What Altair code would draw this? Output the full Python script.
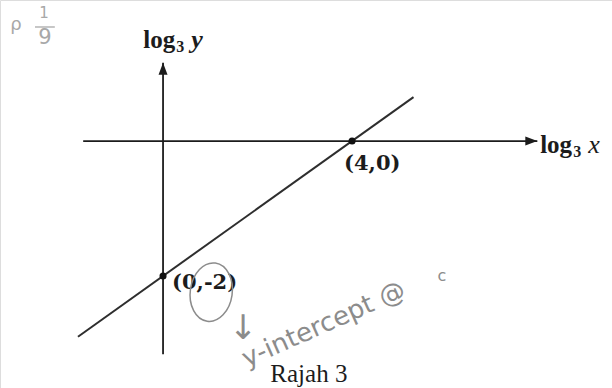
import altair as alt
import pandas as pd

# Diagram units: x is log3 x, y is log3 y
X_DOMAIN = [-3.45, 9.50]
Y_DOMAIN = [-3.66, 2.09]

# Axes extents
axis_h_x = [-1.69, 7.92]
axis_v_y = [-3.16, 1.16]

# Straight line through (0,-2) and (4,0), drawn past both points
line_x = [-1.8, 5.3]
line_y = [-2.9, 0.65]

# Marked points and their labels
pts_x = [4, 0]
pts_y = [0, -2]
pts_label = ["(4,0)", "(0,-2)"]
pts_label_x = [3.83, 0.19]
pts_label_y = [-0.34, -2.11]

caption = "Rajah 3"

xs = alt.Scale(domain=X_DOMAIN, nice=False, zero=False)
ys = alt.Scale(domain=Y_DOMAIN, nice=False, zero=False)
X = lambda f: alt.X(f, type="quantitative", scale=xs, axis=None)
Y = lambda f: alt.Y(f, type="quantitative", scale=ys, axis=None)

INK = "#1c1c1c"
PENCIL = "#8c8c8c"
SERIF = "Liberation Serif"
HAND = "DejaVu Sans"

axes_df = pd.DataFrame({
    "x": [axis_h_x[0], 0], "x2": [axis_h_x[1], 0],
    "y": [0, axis_v_y[0]], "y2": [0, axis_v_y[1]],
})
axes = alt.Chart(axes_df).mark_rule(color=INK, strokeWidth=1.8).encode(
    x=X("x"), x2="x2", y=Y("y"), y2="y2")

line = alt.Chart(pd.DataFrame({"x": line_x, "y": line_y})).mark_line(
    color="#2e2e2e", strokeWidth=2).encode(x=X("x"), y=Y("y"))

heads_df = pd.DataFrame({"x": [axis_h_x[1], 0], "y": [0, axis_v_y[1]],
                         "dir": ["right", "up"]})
head_r = alt.Chart(heads_df[heads_df.dir == "right"]).mark_point(
    shape="M-2,-0.75L0,0L-2,0.75Z", size=144, filled=True, opacity=1,
    color=INK).encode(x=X("x"), y=Y("y"))
head_u = alt.Chart(heads_df[heads_df.dir == "up"]).mark_point(
    shape="M-0.75,2L0,0L0.75,2Z", size=144, filled=True, opacity=1,
    color=INK).encode(x=X("x"), y=Y("y"))

dots = alt.Chart(pd.DataFrame({"x": pts_x, "y": pts_y})).mark_circle(
    size=50, color="#111111", opacity=1).encode(x=X("x"), y=Y("y"))

pt_labels = alt.Chart(pd.DataFrame({
    "x": pts_label_x, "y": pts_label_y, "t": pts_label})).mark_text(
    font="DejaVu Serif", fontSize=21, fontWeight="bold", color=INK, align="left",
    baseline="middle").encode(x=X("x"), y=Y("y"), text="t:N")


def axis_title(x0, y0, var, var_bold):
    pos = pd.DataFrame({"x": [x0], "y": [y0]})
    base = alt.Chart(pos).encode(x=X("x"), y=Y("y"))
    log = base.mark_text(text="log", font=SERIF, fontSize=25, fontWeight="bold",
                         color=INK, align="left", baseline="alphabetic")
    sub = base.mark_text(text="3", font=SERIF, fontSize=16, fontWeight="bold",
                         color=INK, align="left", baseline="alphabetic", dx=33, dy=4)
    v = base.mark_text(text=var, font=SERIF, fontSize=26, fontStyle="italic",
                       fontWeight="bold" if var_bold else "normal",
                       color=INK, align="left", baseline="alphabetic", dx=48)
    return log + sub + v


title_y = axis_title(-0.42, 1.38, "y", True)
title_x = axis_title(7.98, -0.18, "x", False)

cap = alt.Chart(pd.DataFrame({"x": [2.27], "y": [-3.57], "t": [caption]})).mark_text(
    font=SERIF, fontSize=25, color=INK, align="left", baseline="alphabetic"
).encode(x=X("x"), y=Y("y"), text="t:N")

# Pencil notes written over the figure
note = alt.Chart(pd.DataFrame({"x": [3.4], "y": [-2.72], "t": ["y-intercept @"]})).mark_text(
    font=HAND, fontSize=26, color=PENCIL, angle=336, align="center",
    baseline="middle").encode(x=X("x"), y=Y("y"), text="t:N")
note_c = alt.Chart(pd.DataFrame({"x": [5.9], "y": [-2.0], "t": ["c"]})).mark_text(
    font=HAND, fontSize=16, color=PENCIL, align="center",
    baseline="middle").encode(x=X("x"), y=Y("y"), text="t:N")
down = alt.Chart(pd.DataFrame({"x": [1.69], "y": [-2.79], "t": ["↓"]})).mark_text(
    font=HAND, fontSize=34, color=PENCIL, align="center",
    baseline="middle").encode(x=X("x"), y=Y("y"), text="t:N")
loop = alt.Chart(pd.DataFrame({"x": [1.02], "y": [-2.24]})).mark_point(
    shape="M0,-1.4A1,1.4,0,1,1,0,1.4A1,1.4,0,1,1,0,-1.4", size=1764,
    filled=False, color=PENCIL, strokeWidth=1.5, angle=8, opacity=1
).encode(x=X("x"), y=Y("y"))

corner = alt.Chart(pd.DataFrame({
    "x": [-3.11, -2.52, -2.50], "y": [1.72, 1.90, 1.53],
    "t": ["ρ", "1", "9"], "s": [18, 15, 21]})).mark_text(
    font=HAND, color="#a8a8a8", align="center", baseline="middle").encode(
    x=X("x"), y=Y("y"), text="t:N", size=alt.Size("s:Q", scale=None))
bar = alt.Chart(pd.DataFrame({"x": [-2.71], "x2": [-2.29], "y": [1.69]})).mark_rule(
    color="#a8a8a8", strokeWidth=1.3).encode(x=X("x"), x2="x2", y=Y("y"))

chart = alt.layer(
    axes, line, head_r, head_u, dots, pt_labels, title_y, title_x, cap,
    loop, note, note_c, down, corner, bar,
).properties(
    width=612, height=388, padding=0,
    autosize=alt.AutoSizeParams(type="none"),
).configure_view(strokeWidth=0).configure(background="white")

chart.save("out.html", embed_options={"renderer": "svg", "actions": False})
